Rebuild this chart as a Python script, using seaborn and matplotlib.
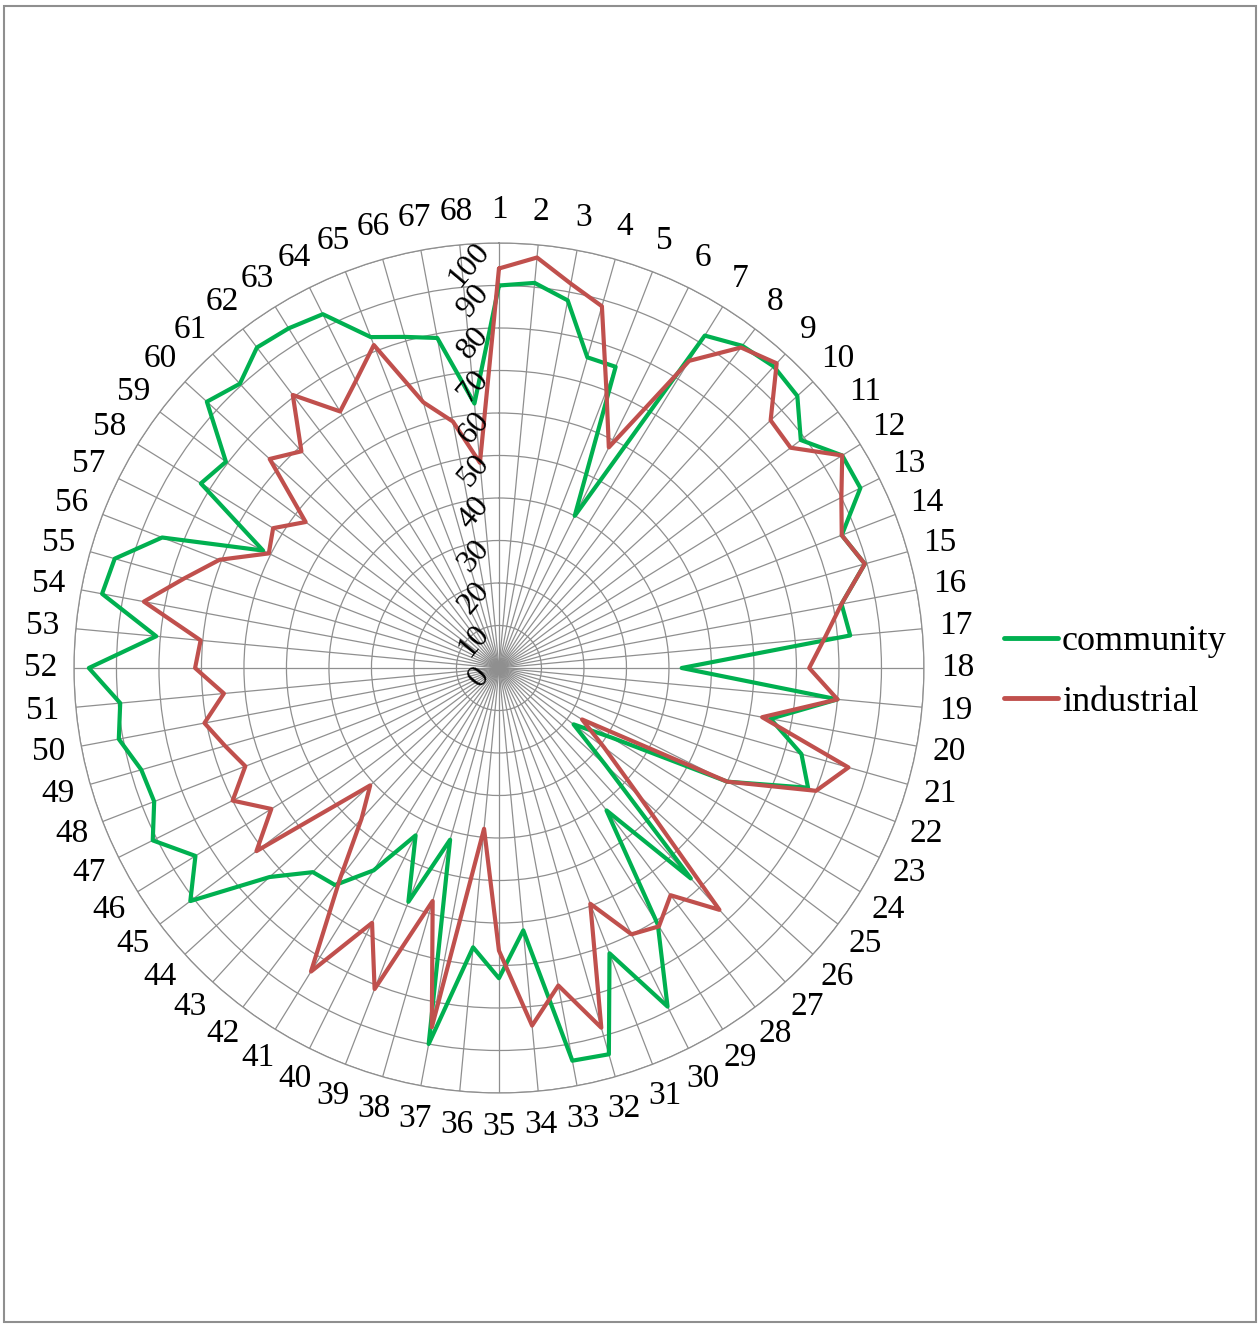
import numpy as np
import pandas as pd
import matplotlib
matplotlib.use("Agg")
import matplotlib.pyplot as plt
from matplotlib.lines import Line2D
from matplotlib.patches import Rectangle
from matplotlib.transforms import offset_copy
import seaborn as sns

# Scores for 68 sampled sites, two land-use types
categories = [str(i) for i in range(1, 69)]

community = [
    90, 91, 88, 76, 76, 40, 92, 95, 96, 95,
    89, 95, 95, 86.5, 89.5, 82, 83, 43, 80, 65,
    74, 78, 60, 31, 22, 34, 67, 42, 71, 89,
    72, 94.5, 94, 62, 73, 66, 90, 42, 59, 44,
    56, 64, 65, 73, 91, 84, 91, 87, 87.5, 91,
    89.5, 96.5, 81, 95, 94, 85, 62, 82.5, 80.5, 93,
    90.5, 94.5, 94, 93, 83.5, 81, 79, 62.5,
]

industrial = [
    94, 97, 92, 88.5, 70, 58, 85, 94.5, 97, 86.5,
    86, 95, 90, 86.5, 89.5, 82, 77, 73, 80, 63,
    85.5, 80, 60, 23, 31, 44.5, 77, 67, 71.5, 70,
    59.5, 88, 76, 84.5, 66.5, 38, 86, 57, 81, 67,
    84, 62, 48, 41, 71.5, 63, 70, 64, 67, 70.5,
    65, 71.5, 70.5, 85, 77, 70.5, 60.5, 62.5, 57, 73,
    69, 80.5, 71, 75.5, 81.5, 65, 59, 48.5,
]

series_names = ["community", "industrial"]
series_colors = {"community": "#00B050", "industrial": "#C0504D"}
r_ticks = list(range(0, 101, 10))

sns.set_theme(style="white")
plt.rcParams["font.family"] = ["Liberation Serif", "DejaVu Serif"]
plt.rcParams["text.color"] = "black"
plt.rcParams["xtick.color"] = "black"

n = len(categories)
angles = np.linspace(0, 2 * np.pi, n, endpoint=False)

# Long-form table, each polygon closed by repeating its first vertex at 2*pi
rows = []
for name, vals in zip(series_names, [community, industrial]):
    for k in range(n):
        rows.append({"series": name, "theta": angles[k], "value": vals[k]})
    rows.append({"series": name, "theta": 2 * np.pi, "value": vals[0]})
df = pd.DataFrame(rows)

fig = plt.figure(figsize=(12.6, 13.25), dpi=100)
ax = fig.add_axes([0.0587, 0.1751, 0.6746, 0.6415], projection="polar")
ax.set_theta_zero_location("N")
ax.set_theta_direction(-1)

grid_color = "#8f8f8f"
ax.set_ylim(0, 100)
ax.set_yticks(r_ticks)
ax.set_yticklabels([])
ax.set_xticks(angles)
ax.set_xticklabels(categories, fontsize=24, color="black")
ax.tick_params(axis="x", pad=11)
ax.grid(True, color=grid_color, linewidth=0.9)
ax.spines["polar"].set_color(grid_color)
ax.spines["polar"].set_linewidth(0.9)
ax.set_facecolor("white")

sns.lineplot(
    data=df, x="theta", y="value", hue="series", hue_order=series_names,
    palette=series_colors, sort=False, estimator=None, linewidth=3.0,
    legend=False, ax=ax,
)
ax.set_xlabel("")
ax.set_ylabel("")

# Value-axis labels running along the first spoke
lab_tr = offset_copy(ax.transData, fig=fig, x=-15, y=-3, units="dots")
for v in r_ticks:
    ax.text(0, v, str(v), transform=lab_tr, rotation=50, rotation_mode="anchor",
            ha="right", va="center", fontsize=23, color="black")

handles = [Line2D([0], [0], color=series_colors[s], lw=3.5) for s in series_names]
fig.legend(handles, series_names, loc="center left",
           bbox_to_anchor=(1004 / 1260, 1 - 672 / 1325), frameon=False,
           fontsize=26, handlelength=1.5, handletextpad=0.1,
           labelspacing=0.75, borderpad=0, borderaxespad=0)

fig.patches.append(Rectangle((4 / 1260, 3 / 1325), 1252 / 1260, 1316 / 1325,
                             transform=fig.transFigure, fill=False,
                             edgecolor="#8f8f8f", linewidth=1.5))

fig.savefig("out.png", dpi=100, facecolor="white")
